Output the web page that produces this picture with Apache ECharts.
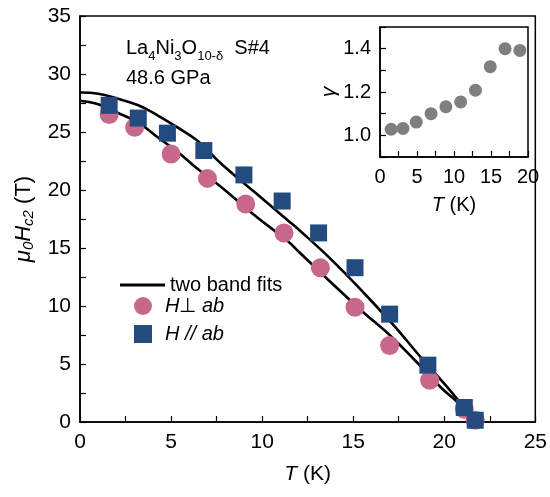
<!DOCTYPE html>
<html>
<head>
<meta charset="utf-8">
<script src="https://cdn.jsdelivr.net/npm/echarts/dist/echarts.min.js"></script>
<style>
html,body{margin:0;padding:0;background:#fff;}
#chart{width:550px;height:497px;}
</style>
</head>
<body>
<div id="chart"></div>
<script>
// ---- data ----
const T_perp   = [1.6, 3.0, 5.0, 7.0, 9.1, 11.2, 13.2, 15.1, 17.0, 19.2, 21.1, 21.7];
const Hc2_perp = [26.5, 25.4, 23.1, 21.0, 18.8, 16.3, 13.3, 9.9, 6.6, 3.6, 1.1, 0.15];
const T_par    = [1.6, 3.2, 4.8, 6.8, 9.0, 11.1, 13.1, 15.1, 17.0, 19.1, 21.1, 21.7];
const Hc2_par  = [27.3, 26.2, 24.9, 23.4, 21.3, 19.05, 16.3, 13.3, 9.3, 4.9, 1.25, 0.15];

// two-band fit curves
const fitPar_T  = [0, 1, 2, 3.2, 4.3, 5.35, 6.4, 7.8, 9.6, 11.4, 12.0, 13.8, 15.6, 17.3, 18.7, 20.0, 20.7, 21.0];
const fitPar_H  = [28.4, 28.3, 27.9, 27.3, 26.4, 25.4, 24.3, 22.2, 19.8, 17.4, 16.6, 14.0, 11.1, 8.2, 5.6, 3.3, 2.0, 1.4];
const fitPerp_T = [0, 1, 2, 3.2, 4.3, 5.35, 6.4, 7.8, 9.6, 11.4, 12.0, 13.8, 15.6, 17.0, 18.4, 19.8, 20.6, 21.0];
const fitPerp_H = [27.7, 27.4, 26.7, 25.8, 24.5, 23.3, 21.9, 20.2, 17.8, 15.6, 14.7, 12.0, 9.4, 7.5, 5.3, 3.0, 1.9, 1.3];

// inset: anisotropy
const T_gamma = [1.5, 3.1, 4.9, 6.9, 8.9, 10.9, 12.9, 14.9, 16.9, 18.9];
const gamma   = [1.028, 1.032, 1.061, 1.10, 1.132, 1.154, 1.208, 1.317, 1.40, 1.392];

const seriesNames = ['two band fits', 'H⊥ab', 'H//ab', 'gamma'];

const zip = (a, b) => a.map((v, i) => [v, b[i]]);
const FONT = "'Liberation Sans', Arial, sans-serif";
const BLACK = '#000';
const PINK = '#c8678c';
const BLUE = '#234b80';
const GRAY = '#7f7f7f';

const chart = echarts.init(document.getElementById('chart'), null, {renderer: 'canvas'});

const axisCommon = {
  type: 'value',
  axisLine: {show: true, onZero: false, lineStyle: {color: BLACK, width: 1.5}},
  axisTick: {show: true, inside: true, length: 6, lineStyle: {color: BLACK, width: 1.2}},
  minorTick: {show: true, splitNumber: 2, length: 6, lineStyle: {color: BLACK, width: 1.2}},
  splitLine: {show: false},
  minorSplitLine: {show: false}
};

const option = {
  backgroundColor: '#fff',
  animation: false,
  textStyle: {fontFamily: FONT},
  grid: [
    {left: 80, right: 12, top: 16, bottom: 75, show: true, borderColor: BLACK, borderWidth: 1.5, containLabel: false},
    {left: 380, right: 22, top: 27, bottom: 340, show: true, borderColor: BLACK, borderWidth: 1.5, backgroundColor: '#fff', containLabel: false}
  ],
  xAxis: [
    Object.assign({}, axisCommon, {
      gridIndex: 0, min: 0, max: 25, interval: 5,
      axisLabel: {fontSize: 21, color: BLACK, margin: 10, fontFamily: FONT},
      name: '{i|T} (K)', nameLocation: 'middle', nameGap: 42,
      nameTextStyle: {fontSize: 21, color: BLACK, fontFamily: FONT,
        rich: {i: {fontSize: 21, fontStyle: 'italic', color: BLACK, fontFamily: FONT}}}
    }),
    Object.assign({}, axisCommon, {
      gridIndex: 1, min: 0, max: 20, interval: 5,
      axisLabel: {fontSize: 20, color: BLACK, margin: 10, fontFamily: FONT},
      name: '{i|T} (K)', nameLocation: 'middle', nameGap: 38,
      nameTextStyle: {fontSize: 20, color: BLACK, fontFamily: FONT,
        rich: {i: {fontSize: 20, fontStyle: 'italic', color: BLACK, fontFamily: FONT}}}
    })
  ],
  yAxis: [
    Object.assign({}, axisCommon, {
      gridIndex: 0, min: 0, max: 35, interval: 5,
      axisLabel: {fontSize: 21, color: BLACK, margin: 9, fontFamily: FONT},
      name: '{i|μ}{s|0}{i|H}{s|c2}{n| (T)}', nameLocation: 'middle', nameGap: 43, nameRotate: 90,
      nameTextStyle: {color: BLACK, fontFamily: FONT,
        rich: {
          i: {fontSize: 22, fontStyle: 'italic', color: BLACK, fontFamily: FONT, lineHeight: 26},
          n: {fontSize: 22, color: BLACK, fontFamily: FONT, lineHeight: 26},
          s: {fontSize: 15, fontStyle: 'italic', color: BLACK, fontFamily: FONT, verticalAlign: 'bottom', lineHeight: 26}
        }}
    }),
    Object.assign({}, axisCommon, {
      gridIndex: 1, min: 0.9, max: 1.5, interval: 0.1,
      minorTick: {show: false},
      axisLabel: {fontSize: 20, color: BLACK, margin: 9, fontFamily: FONT,
        formatter: v => (Math.round(v * 10) % 2 === 0 ? v.toFixed(1) : '')},
      name: '{i|γ}', nameLocation: 'middle', nameGap: 40, nameRotate: 90,
      nameTextStyle: {color: BLACK, fontFamily: FONT,
        rich: {i: {fontSize: 21, fontStyle: 'italic', color: BLACK, fontFamily: FONT}}}
    })
  ],
  legend: [
    {
      data: [{name: seriesNames[0], icon: 'rect'}], left: 120, top: 275, padding: 0,
      itemWidth: 45, itemHeight: 3,
      textStyle: {fontSize: 20, color: BLACK, fontFamily: FONT},
      selectedMode: false
    },
    {
      data: [
        {name: seriesNames[1], icon: 'circle'},
        {name: seriesNames[2], icon: 'path://M0 0H10V10H0Z'}
      ],
      left: 134, top: 296, padding: 0, orient: 'vertical',
      itemWidth: 34, itemHeight: 18, itemGap: 8, symbolKeepAspect: true,
      selectedMode: false,
      formatter: name => name === 'H⊥ab' ? '{i|H}⊥ {i|ab}' : '{i|H // ab}',
      textStyle: {fontSize: 20, color: BLACK, fontFamily: FONT,
        rich: {i: {fontSize: 20, fontStyle: 'italic', color: BLACK, fontFamily: FONT}}}
    }
  ],
  graphic: [
    {
      type: 'text', left: 126, top: 38, z: 100,
      style: {
        text: '{m|La}{s|4}{m|Ni}{s|3}{m|O}{s|10-δ}{m|  S#4}\n{m|48.6 GPa}',
        fill: BLACK,
        rich: {
          m: {fontSize: 20, fontFamily: FONT, fill: BLACK, lineHeight: 30},
          s: {fontSize: 13, fontFamily: FONT, fill: BLACK, verticalAlign: 'bottom', lineHeight: 30}
        }
      }
    }
  ],
  series: [
    {
      name: seriesNames[0], type: 'line', xAxisIndex: 0, yAxisIndex: 0,
      data: zip(fitPar_T, fitPar_H), smooth: 0.4, symbol: 'none',
      lineStyle: {color: BLACK, width: 2.6}, itemStyle: {color: BLACK}, z: 2
    },
    {
      name: seriesNames[0], type: 'line', xAxisIndex: 0, yAxisIndex: 0,
      data: zip(fitPerp_T, fitPerp_H), smooth: 0.4, symbol: 'none',
      lineStyle: {color: BLACK, width: 2.6}, itemStyle: {color: BLACK}, z: 2
    },
    {
      name: seriesNames[1], type: 'scatter', xAxisIndex: 0, yAxisIndex: 0,
      data: zip(T_perp, Hc2_perp), symbol: 'circle', symbolSize: 19,
      itemStyle: {color: PINK, opacity: 1}, z: 3
    },
    {
      name: seriesNames[2], type: 'scatter', xAxisIndex: 0, yAxisIndex: 0,
      data: zip(T_par, Hc2_par), symbol: 'rect', symbolSize: 17,
      itemStyle: {color: BLUE, opacity: 1}, z: 4
    },
    {
      name: seriesNames[3], type: 'scatter', xAxisIndex: 1, yAxisIndex: 1,
      data: zip(T_gamma, gamma), symbol: 'circle', symbolSize: 13,
      itemStyle: {color: GRAY, opacity: 1}, z: 5
    }
  ]
};

chart.setOption(option);
</script>
</body>
</html>
